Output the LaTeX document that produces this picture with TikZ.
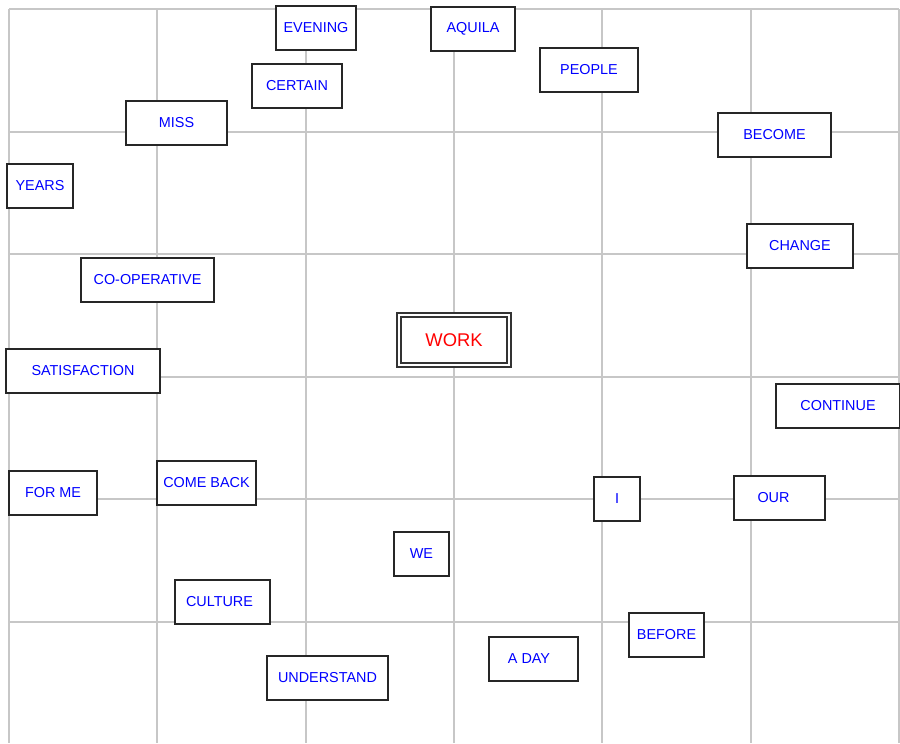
\documentclass[tikz,border=0pt]{standalone}
\usepackage{fontspec}
\setmainfont{Liberation Sans}
\usepackage{tikz}

\newcommand{\pxl}{0.75pt}

\begin{document}
\begin{tikzpicture}[x=0.75pt,y=-0.75pt,
    gridline/.style={draw=black!22,line width=1.5pt},
    word/.style={draw=black!85,line width=1.5pt,fill=white,inner sep=0pt,
      minimum height=44*\pxl,text=blue,font=\fontsize{10.8pt}{13pt}\selectfont},
    keyword/.style={draw=black!80,line width=1.1pt,double=white,double distance=2pt,
      fill=white,inner sep=0pt,minimum width=110*\pxl,minimum height=50*\pxl,
      text=red,font=\fontsize{13.8pt}{16pt}\selectfont}]
    \useasboundingbox (0,0) rectangle (900,743);
    \clip (0,0) rectangle (900,743);

    % grid
    \foreach \i in {0,...,6}
      \draw[gridline] (9+\i*148.33,9) -- (9+\i*148.33,743);
    \foreach \j in {0,...,5}
      \draw[gridline] (9,9+\j*122.6) -- (899,9+\j*122.6);

    \node[keyword] (work) at (454,340) {WORK};

    \node[word,minimum width=80*\pxl]  (evening)      at (316,28)    {EVENING};
    \node[word,minimum width=84*\pxl]  (aquila)       at (473,29)    {AQUILA};
    \node[word,minimum width=98*\pxl]  (people)       at (589,70)    {PEOPLE};
    \node[word,minimum width=90*\pxl]  (certain)      at (297,86)    {CERTAIN};
    \node[word,minimum width=101*\pxl] (miss)         at (176.5,122.5) {MISS};
    \node[word,minimum width=113*\pxl] (become)       at (774.5,135) {BECOME};
    \node[word,minimum width=66*\pxl]  (years)        at (40,186)    {YEARS};
    \node[word,minimum width=106*\pxl] (change)       at (800,246)   {CHANGE};
    \node[word,minimum width=133*\pxl] (cooperative)  at (147.5,279.5) {CO-OPERATIVE};
    \node[word,minimum width=154*\pxl] (satisfaction) at (83,370.5)  {SATISFACTION};
    \node[word,minimum width=124*\pxl] (continue)     at (838,405.5) {CONTINUE};
    \node[word,minimum width=88*\pxl]  (forme)        at (53,492.5)  {FOR ME};
    \node[word,minimum width=99*\pxl]  (comeback)     at (206.5,483) {COME BACK};
    \node[word,minimum width=46*\pxl]  (i)            at (617,499)   {I};
    \node[word,minimum width=91*\pxl]  (our)          at (779.5,497.5) {\hspace*{-9pt}OUR};
    \node[word,minimum width=55*\pxl]  (we)           at (421.5,554) {WE};
    \node[word,minimum width=95*\pxl]  (culture)      at (222.5,602) {\hspace*{-4.5pt}CULTURE};
    \node[word,minimum width=75*\pxl]  (before)       at (666.5,635) {BEFORE};
    \node[word,minimum width=89*\pxl]  (aday)         at (533.5,659) {\hspace*{-6.75pt}A DAY};
    \node[word,minimum width=121*\pxl] (understand)   at (327.5,678) {UNDERSTAND};
\end{tikzpicture}
\end{document}
